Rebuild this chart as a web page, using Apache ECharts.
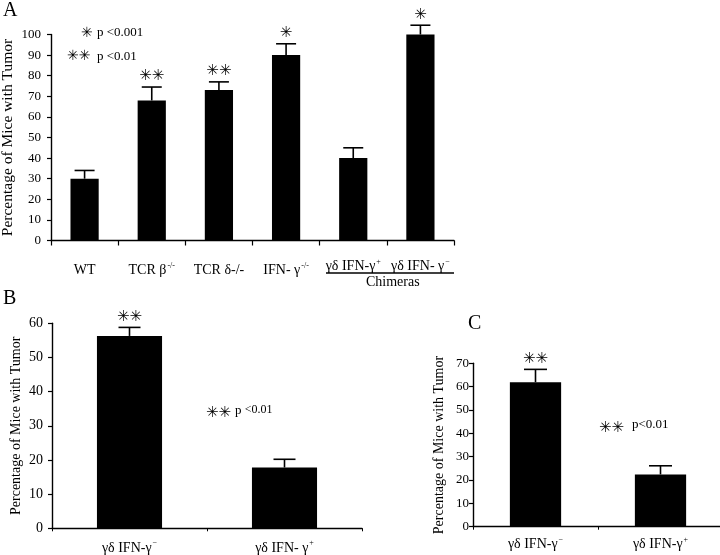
<!DOCTYPE html>
<html>
<head>
<meta charset="utf-8">
<script src="https://cdn.jsdelivr.net/npm/echarts@6/dist/echarts.min.js"></script>
<style>
html, body { margin: 0; background: #fff; }
#main { width: 720px; height: 555px; }
</style>
</head>
<body>
<div id="main"></div>
<script>
// panel A
var catsA = ['WT', 'TCR β^-/-', 'TCR δ-/-', 'IFN- γ^-/-', 'γδ IFN-γ^+', 'γδ IFN- γ^-'];
var valsA = [30, 68, 73, 90, 40, 100];
var errA = [34, 74.5, 77, 95.5, 45, 104.5];
var starsA = ['', '✳✳', '✳✳', '✳', '', '✳'];
var ticksA = [0, 10, 20, 30, 40, 50, 60, 70, 80, 90, 100];

// panel B
var catsB = ['γδ IFN-γ^-', 'γδ IFN- γ^+'];
var valsB = [56.3, 17.8];
var errB = [58.8, 20.2];
var starsB = ['✳✳', ''];
var ticksB = [0, 10, 20, 30, 40, 50, 60];

// panel C
var catsC = ['γδ IFN-γ^-', 'γδ IFN-γ^+'];
var valsC = [61.9, 22.4];
var errC = [67.4, 26.1];
var starsC = ['✳✳', ''];
var ticksC = [0, 10, 20, 30, 40, 50, 60, 70];

var serif = '"Liberation Serif", "Times New Roman", serif';
var starFont = '"DejaVu Sans"';

// "^" marks where the superscript starts
function splitName(v) {
  var k = v.indexOf('^');
  if (k < 0) return '{n|' + v + '}';
  var sup = v.slice(k + 1);
  if (sup === '-') sup = '−';
  return '{n|' + v.slice(0, k) + '}{s|' + sup + '}';
}
function fmtCat(v) { return splitName(v); }
// chimeras in panel A sit a little higher than the other names
function fmtCatA(v, i) {
  if (i >= 4) return splitName(v);
  return '{e| }\n' + splitName(v);
}
var rich = {
  n: { fontFamily: serif, fontSize: 14, color: '#000', lineHeight: 16, verticalAlign: 'bottom' },
  s: { fontFamily: serif, fontSize: 8, color: '#000', lineHeight: 16, verticalAlign: 'top', padding: [0, 0, 0, 1] },
  e: { fontSize: 4, lineHeight: 4 }
};

function errRender(stars, capW, starSize) {
  return function (params, api) {
    var x = api.value(0);
    var p1 = api.coord([x, api.value(1)]);
    var p2 = api.coord([x, api.value(2)]);
    var st = { stroke: '#000', lineWidth: 1.6 };
    var kids = [
      { type: 'line', shape: { x1: p1[0], y1: p1[1], x2: p2[0], y2: p2[1] }, style: st },
      { type: 'line', shape: { x1: p2[0] - capW / 2, y1: p2[1], x2: p2[0] + capW / 2, y2: p2[1] }, style: st }
    ];
    var s = stars[params.dataIndex];
    if (s) {
      kids.push({
        type: 'text', x: p2[0], y: p2[1] - 3,
        style: { text: s, fill: '#000', font: starSize + 'px ' + starFont, align: 'center', verticalAlign: 'bottom' }
      });
    }
    return { type: 'group', children: kids };
  };
}

function errData(vals, errs) {
  return vals.map(function (v, i) { return [i, v, errs[i]]; });
}

var axisLine = { lineStyle: { color: '#000', width: 1.4 } };

function yAxis(idx, ticks, fs, nameSize, gap, margin) {
  return {
    type: 'value', gridIndex: idx,
    min: ticks[0], max: ticks[ticks.length - 1], interval: ticks[1] - ticks[0],
    name: 'Percentage of Mice with Tumor', nameLocation: 'middle', nameGap: gap,
    nameMoveOverlap: false,
    nameTextStyle: { fontFamily: serif, fontSize: nameSize, color: '#000' },
    axisLine: { show: true, lineStyle: { color: '#000', width: 1.4 } },
    axisTick: { show: true, length: 4, lineStyle: { color: '#000', width: 1.2 } },
    axisLabel: { fontFamily: serif, fontSize: fs, color: '#000', margin: margin },
    splitLine: { show: false }
  };
}

var chart = echarts.init(document.getElementById('main'));
chart.setOption({
  animation: false,
  backgroundColor: '#fff',
  grid: [
    { left: 51, top: 34.5, width: 403, height: 206, outerBoundsMode: 'none' },
    { left: 52, top: 323.3, width: 310, height: 205, outerBoundsMode: 'none' },
    { left: 473, top: 363.3, width: 250, height: 163.4, outerBoundsMode: 'none' }
  ],
  xAxis: [
    {
      type: 'category', gridIndex: 0, data: catsA,
      axisLine: axisLine,
      axisTick: { show: true, length: 5, lineStyle: { color: '#000', width: 1.2 } },
      axisLabel: { margin: 17, formatter: fmtCatA, rich: rich, interval: 0 }
    },
    {
      type: 'category', gridIndex: 1, data: catsB,
      axisLine: axisLine,
      axisTick: { show: true, length: 3, lineStyle: { color: '#000', width: 1 } },
      axisLabel: { margin: 11, formatter: fmtCat, rich: rich, interval: 0 }
    },
    {
      type: 'category', gridIndex: 2, data: catsC,
      axisLine: axisLine,
      axisTick: { show: true, length: 3, lineStyle: { color: '#000', width: 1 } },
      axisLabel: { margin: 9, formatter: fmtCat, rich: rich, interval: 0 }
    }
  ],
  yAxis: [
    yAxis(0, ticksA, 13, 15.5, 35, 10),
    yAxis(1, ticksB, 14, 14, 29, 9),
    yAxis(2, ticksC, 13, 14, 27, 4)
  ],
  series: [
    { type: 'bar', xAxisIndex: 0, yAxisIndex: 0, data: valsA, barWidth: '42%', itemStyle: { color: '#000' } },
    { type: 'bar', xAxisIndex: 1, yAxisIndex: 1, data: valsB, barWidth: '42%', itemStyle: { color: '#000' } },
    { type: 'bar', xAxisIndex: 2, yAxisIndex: 2, data: valsC, barWidth: '41%', itemStyle: { color: '#000' } },
    { type: 'custom', xAxisIndex: 0, yAxisIndex: 0, clip: false, z: 3, data: errData(valsA, errA), renderItem: errRender(starsA, 20, 15) },
    { type: 'custom', xAxisIndex: 1, yAxisIndex: 1, clip: false, z: 3, data: errData(valsB, errB), renderItem: errRender(starsB, 22, 15) },
    { type: 'custom', xAxisIndex: 2, yAxisIndex: 2, clip: false, z: 3, data: errData(valsC, errC), renderItem: errRender(starsC, 23, 15) }
  ],
  graphic: [
    { type: 'text', left: 3, top: 1, style: { text: 'A', font: '20px ' + serif, fill: '#000' } },
    { type: 'text', left: 3, top: 289, style: { text: 'B', font: '20px ' + serif, fill: '#000' } },
    { type: 'text', left: 468, top: 314, style: { text: 'C', font: '20px ' + serif, fill: '#000' } },
    // significance keys
    { type: 'text', left: 81, top: 26, style: { text: '✳', font: '14px ' + starFont, fill: '#000' } },
    { type: 'text', left: 97, top: 26, style: { text: 'p <0.001', font: '13px ' + serif, fill: '#000' } },
    { type: 'text', left: 67, top: 49, style: { text: '✳✳', font: '14px ' + starFont, fill: '#000' } },
    { type: 'text', left: 97, top: 50, style: { text: 'p <0.01', font: '13px ' + serif, fill: '#000' } },
    { type: 'text', left: 206, top: 406, style: { text: '✳✳', font: '15px ' + starFont, fill: '#000' } },
    { type: 'text', left: 235, top: 404, style: { text: 'p {s|<0.01}', font: '13px ' + serif, fill: '#000',
      rich: { s: { fontFamily: serif, fontSize: 12, verticalAlign: 'top', lineHeight: 14 } } } },
    { type: 'text', left: 599, top: 421, style: { text: '✳✳', font: '15px ' + starFont, fill: '#000' } },
    { type: 'text', left: 632, top: 418, style: { text: 'p<0.01', font: '13px ' + serif, fill: '#000' } },
    // chimeras bracket
    { type: 'line', shape: { x1: 326, y1: 273, x2: 454, y2: 273 }, style: { stroke: '#000', lineWidth: 1.3 } },
    { type: 'text', left: 366, top: 275, style: { text: 'Chimeras', font: '14px ' + serif, fill: '#000' } }
  ]
});
</script>
</body>
</html>
